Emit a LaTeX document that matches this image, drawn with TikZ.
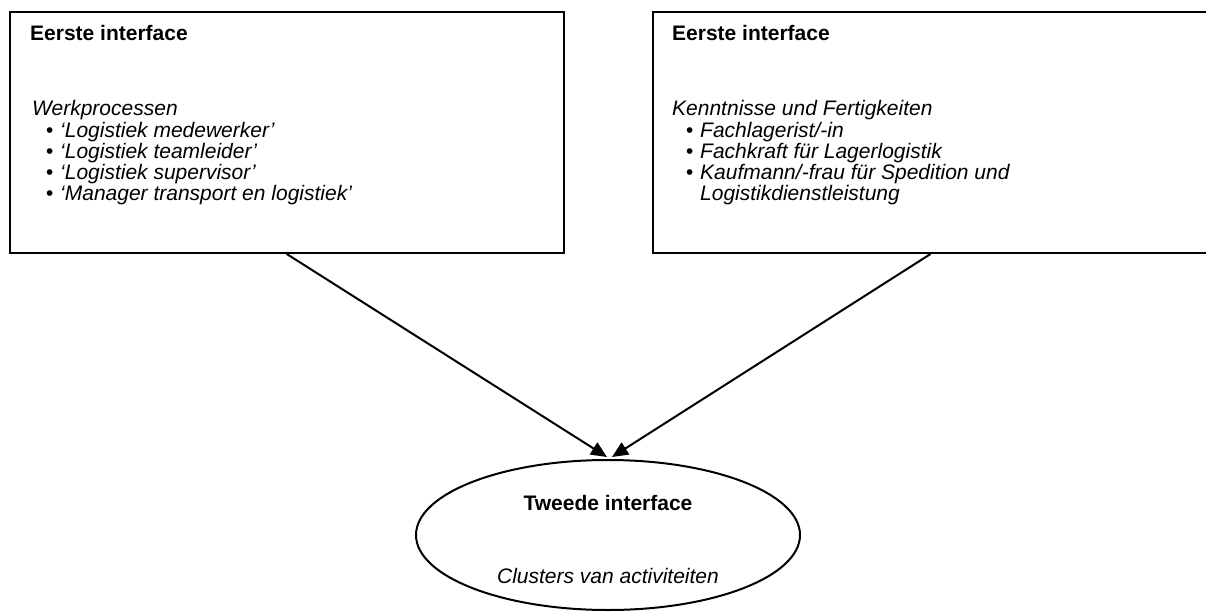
\documentclass[tikz,border=0pt]{standalone}
\usepackage{fontspec}
\setmainfont{Liberation Sans}
\usetikzlibrary{arrows.meta,shapes.geometric}
\newcommand\mybul{\llap{{\fontsize{21}{21}\selectfont\raisebox{0pt}{•}}\hspace{7pt}}}
\begin{document}
\begin{tikzpicture}[x=1pt,y=-1pt,
  box/.style={draw, line width=2pt, inner sep=0pt, anchor=north west},
  oval/.style={draw, ellipse, line width=2pt, inner sep=0pt},
  txt/.style={anchor=base west, inner sep=0pt, font=\fontsize{21}{21}\selectfont},
  ctxt/.style={anchor=base, inner sep=0pt, font=\fontsize{21}{21}\selectfont},
  arr/.style={line width=2pt, -{Triangle[length=16pt,width=14pt]}}]
\useasboundingbox (0,0) rectangle (1206,612);
% boxes
\node[box, minimum width=554.5pt, minimum height=241pt] (lbox) at (8.5,11) {};
\node[box, minimum width=558pt, minimum height=241pt] (rbox) at (652,11) {};
\node[oval, minimum width=384pt, minimum height=150pt] (ell) at (608,535) {};
% left box text
\node[txt, font=\fontsize{21}{21}\selectfont\bfseries] (lt) at (30,41) {Eerste interface};
\node[txt, font=\fontsize{21}{21}\selectfont\itshape] (lh) at (32,116) {Werkprocessen};
\node[txt, font=\fontsize{21}{21}\selectfont\itshape] (l1) at (60,138) {\mybul‘Logistiek medewerker’};
\node[txt, font=\fontsize{21}{21}\selectfont\itshape] (l2) at (60,159) {\mybul‘Logistiek teamleider’};
\node[txt, font=\fontsize{21}{21}\selectfont\itshape] (l3) at (60,180) {\mybul‘Logistiek supervisor’};
\node[txt, font=\fontsize{21}{21}\selectfont\itshape] (l4) at (60,201) {\mybul‘Manager transport en logistiek’};
% right box text
\node[txt, font=\fontsize{21}{21}\selectfont\bfseries] (rt) at (672,41) {Eerste interface};
\node[txt, font=\fontsize{21}{21}\selectfont\itshape] (rh) at (672,116) {Kenntnisse und Fertigkeiten};
\node[txt, font=\fontsize{21}{21}\selectfont\itshape] (r1) at (700,138) {\mybul Fachlagerist/-in};
\node[txt, font=\fontsize{21}{21}\selectfont\itshape] (r2) at (700,159) {\mybul Fachkraft für Lagerlogistik};
\node[txt, font=\fontsize{21}{21}\selectfont\itshape] (r3) at (700,180) {\mybul Kaufmann/-frau für Spedition und};
\node[txt, font=\fontsize{21}{21}\selectfont\itshape] (r4) at (700,201) {Logistikdienstleistung};
% ellipse text
\node[ctxt, font=\fontsize{21}{21}\selectfont\bfseries] (et) at (608,510) {Tweede interface};
\node[ctxt, font=\fontsize{21}{21}\selectfont\itshape] (ec) at (608,583) {Clusters van activiteiten};
% arrows
\draw[arr] (lbox.south) -- ([shift={(-1,-2)}]ell.north);
\draw[arr] ([xshift=-1.5pt]rbox.south) -- ([shift={(4,-2)}]ell.north);
\end{tikzpicture}
\end{document}
